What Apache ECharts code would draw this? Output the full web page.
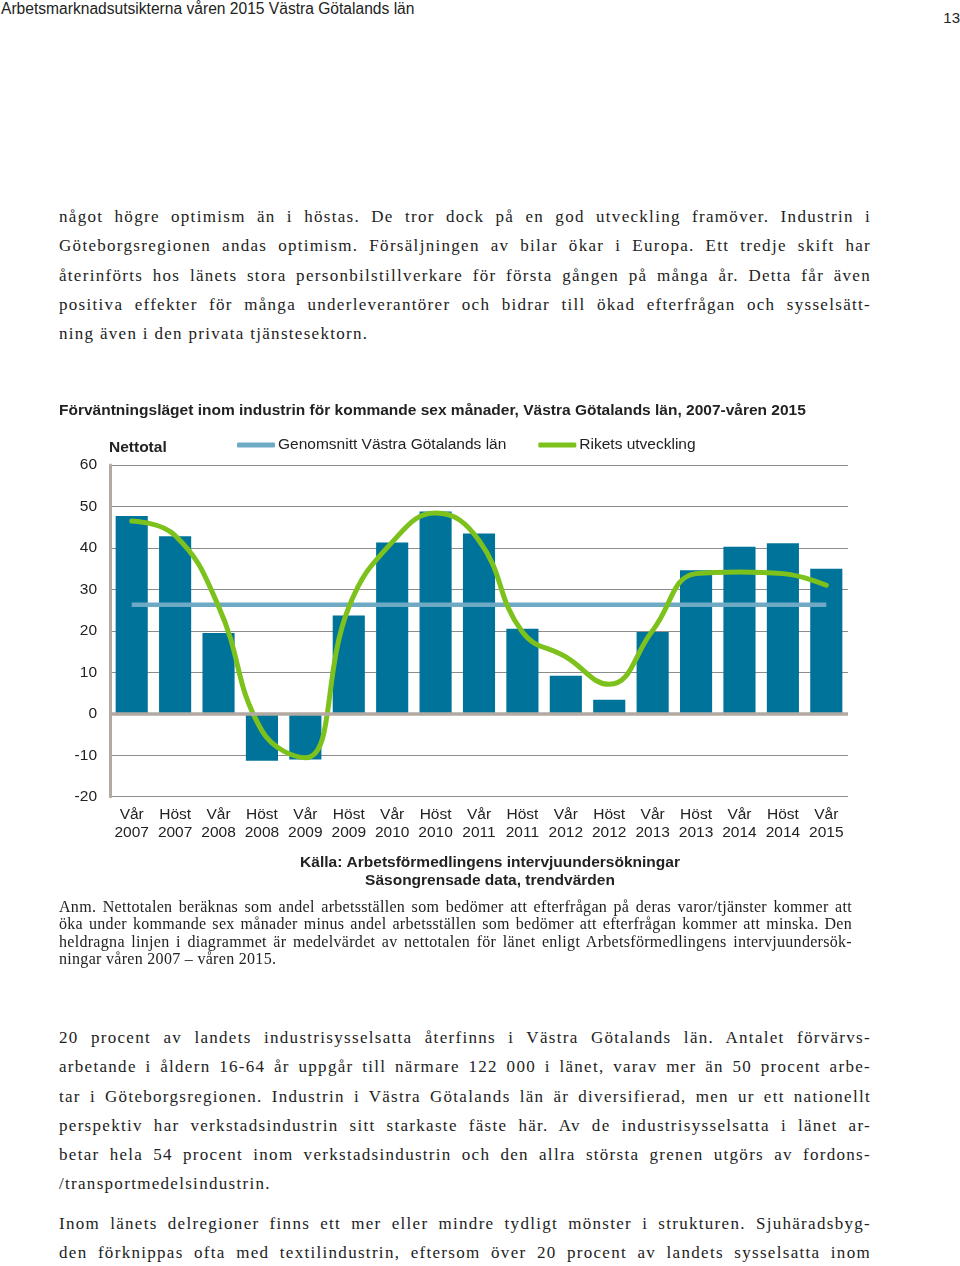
<!DOCTYPE html>
<html><head><meta charset="utf-8">
<script src="https://cdn.jsdelivr.net/npm/echarts@6/dist/echarts.min.js"></script>
<style>
body{margin:0;width:960px;height:1266px;position:relative;background:#fff;overflow:hidden;color:#222;}
.hdr{position:absolute;left:1px;top:0px;font:15.6px "Liberation Sans",Arial,sans-serif;line-height:18px;}
.pg{position:absolute;right:0px;top:9px;font:15px "Liberation Sans",Arial,sans-serif;line-height:18px;}
.txt{position:absolute;left:59px;width:812px;font-family:"Liberation Serif","DejaVu Serif",serif;font-size:17px;letter-spacing:1.3px;}
.txt div{height:29.3px;line-height:29.3px;white-space:normal;text-align:justify;text-align-last:justify;}
.txt div.last{text-align-last:left;}
.anm{position:absolute;left:59px;width:793px;font-family:"Liberation Serif",serif;font-size:16px;letter-spacing:0.3px;}
.anm div{height:17.4px;line-height:17.4px;text-align:justify;text-align-last:justify;}
.anm div.last{text-align-last:left;}
#chart{position:absolute;left:0;top:380px;width:960px;height:520px;}
</style>
</head><body>
<div class="hdr">Arbetsmarknadsutsikterna våren 2015 Västra Götalands län</div>
<div class="pg">13</div>
<div class="txt" style="top:202px">
<div>något högre optimism än i höstas. De tror dock på en god utveckling framöver. Industrin i</div>
<div>Göteborgsregionen andas optimism. Försäljningen av bilar ökar i Europa. Ett tredje skift har</div>
<div>återinförts hos länets stora personbilstillverkare för första gången på många år. Detta får även</div>
<div>positiva effekter för många underleverantörer och bidrar till ökad efterfrågan och sysselsätt-</div>
<div class="last">ning även i den privata tjänstesektorn.</div>
</div>
<div id="chart"></div>
<div class="anm" style="top:898px">
<div>Anm. Nettotalen beräknas som andel arbetsställen som bedömer att efterfrågan på deras varor/tjänster kommer att</div>
<div>öka under kommande sex månader minus andel arbetsställen som bedömer att efterfrågan kommer att minska. Den</div>
<div>heldragna linjen i diagrammet är medelvärdet av nettotalen för länet enligt Arbetsförmedlingens intervjuundersök-</div>
<div class="last">ningar våren 2007 – våren 2015.</div>
</div>
<div class="txt" style="top:1023px">
<div>20 procent av landets industrisysselsatta återfinns i Västra Götalands län. Antalet förvärvs-</div>
<div>arbetande i åldern 16-64 år uppgår till närmare 122 000 i länet, varav mer än 50 procent arbe-</div>
<div>tar i Göteborgsregionen. Industrin i Västra Götalands län är diversifierad, men ur ett nationellt</div>
<div>perspektiv har verkstadsindustrin sitt starkaste fäste här. Av de industrisysselsatta i länet ar-</div>
<div>betar hela 54 procent inom verkstadsindustrin och den allra största grenen utgörs av fordons-</div>
<div class="last">/transportmedelsindustrin.</div>
</div>
<div class="txt" style="top:1209px">
<div>Inom länets delregioner finns ett mer eller mindre tydligt mönster i strukturen. Sjuhäradsbyg-</div>
<div>den förknippas ofta med textilindustrin, eftersom över 20 procent av landets sysselsatta inom</div>
</div>
<script>
const categories = ['Vår\n2007','Höst\n2007','Vår\n2008','Höst\n2008','Vår\n2009','Höst\n2009','Vår\n2010','Höst\n2010','Vår\n2011','Höst\n2011','Vår\n2012','Höst\n2012','Vår\n2013','Höst\n2013','Vår\n2014','Höst\n2014','Vår\n2015'];
const nettotal = [47.7, 42.8, 19.5, -11.3, -11.0, 23.7, 41.3, 48.8, 43.5, 20.5, 9.2, 3.4, 19.7, 34.6, 40.3, 41.1, 35.0];
const genomsnitt = [26.3, 26.3, 26.3, 26.3, 26.3, 26.3, 26.3, 26.3, 26.3, 26.3, 26.3, 26.3, 26.3, 26.3, 26.3, 26.3, 26.3];
const riket = [46.5, 43.0, 25.9, -4.1, -10.6, 25.7, 41.4, 48.4, 41.8, 19.7, 13.7, 7.1, 20.1, 33.8, 34.2, 33.8, 31.0];
const yTicks = {min: -20, max: 60, interval: 10};

const FONT = '"Liberation Sans", Arial, sans-serif';
const FS = 15.5;
const chart = echarts.init(document.getElementById('chart'), null, {renderer: 'canvas'});
chart.setOption({
  animation: false,
  title: {
    text: 'Förväntningsläget inom industrin för kommande sex månader, Västra Götalands län, 2007-våren 2015',
    left: 54, top: 18,
    textStyle: {fontFamily: FONT, fontSize: 15.5, fontWeight: 'bold', color: '#222'}
  },
  legend: {
    data: ['Genomsnitt Västra Götalands län', 'Rikets utveckling'],
    left: 232, top: 52,
    icon: 'roundRect', itemWidth: 38, itemHeight: 5, itemGap: 32,
    textStyle: {fontFamily: FONT, fontSize: FS, color: '#222', padding: [0, 0, 0, -2]},
    selectedMode: false
  },
  graphic: [
    {type: 'text', x: 109, y: 68, style: {text: 'Nettotal', font: 'bold 15.5px ' + FONT, fill: '#222', textVerticalAlign: 'middle'}},
    {type: 'text', x: 490, y: 483, style: {text: 'Källa: Arbetsförmedlingens intervjuundersökningar', font: 'bold 15.5px ' + FONT, fill: '#222', textAlign: 'center', textVerticalAlign: 'middle'}},
    {type: 'text', x: 490, y: 501, style: {text: 'Säsongrensade data, trendvärden', font: 'bold 15.5px ' + FONT, fill: '#222', textAlign: 'center', textVerticalAlign: 'middle'}}
  ],
  grid: {left: 110, top: 85, width: 738, height: 331.7},
  xAxis: {
    type: 'category', data: categories,
    axisLine: {show: false}, axisTick: {show: false},
    axisLabel: {interval: 0, fontFamily: FONT, fontSize: FS, lineHeight: 18, color: '#222', margin: 9}
  },
  yAxis: {
    type: 'value', min: yTicks.min, max: yTicks.max, interval: yTicks.interval,
    axisLine: {show: true, lineStyle: {color: '#b2aaa2', width: 3}},
    axisTick: {show: false},
    splitLine: {lineStyle: {color: '#8c8c8c', width: 1}},
    axisLabel: {fontFamily: FONT, fontSize: FS, color: '#222', margin: 13}
  },
  series: [
    {
      name: 'Nettotal', type: 'bar', data: nettotal, barCategoryGap: '26%',
      itemStyle: {color: '#00739a'},
      markLine: {silent: true, symbol: 'none', label: {show: false},
        lineStyle: {color: '#b2aaa2', width: 3.5, type: 'solid'}, data: [{yAxis: 0}]}
    },
    {
      name: 'Genomsnitt Västra Götalands län', type: 'line', data: genomsnitt,
      symbol: 'none', lineStyle: {color: '#6eaac4', width: 4.5}, itemStyle: {color: '#6eaac4'}, z: 3
    },
    {
      name: 'Rikets utveckling', type: 'line', data: riket, smooth: 0.45,
      symbol: 'none', lineStyle: {color: '#7dc21c', width: 5, cap: 'round'}, itemStyle: {color: '#7dc21c'}, z: 4
    }
  ]
});
</script>
</body></html>
